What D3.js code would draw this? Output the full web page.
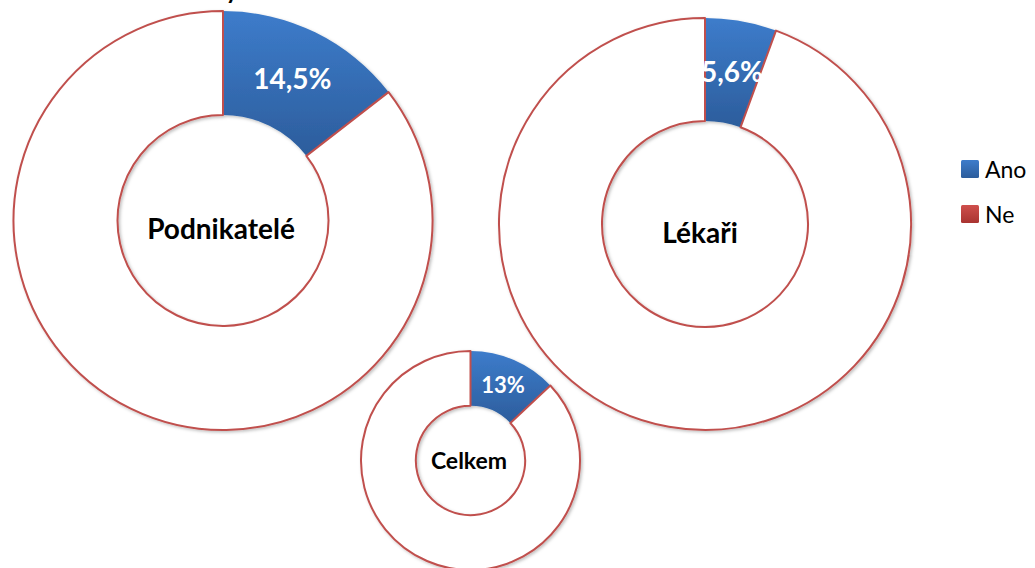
<!DOCTYPE html>
<html>
<head>
<meta charset="utf-8">
<script src="https://cdn.jsdelivr.net/npm/d3@7"></script>
<style>
  body { margin: 0; background: #fff; }
  svg { display: block; font-family: Lato, "Open Sans", sans-serif; }
</style>
</head>
<body>
<div id="chart"></div>
<script>
// data
var groups = ["Podnikatelé", "Lékaři", "Celkem"];
var categories = ["Ano", "Ne"];
var anoValues = [14.5, 5.6, 13];
var neValues = [85.5, 94.4, 87];
var valueLabels = ["14,5%", "5,6%", "13%"];

// layout of the three rings
var layout = [
    {cx: 223, cy: 220.5, outer: 209.5, inner: 105.5, valueSize: 28, nameSize: 28, nameDy: 18.5, nameDx: -2},
    {cx: 705, cy: 224, outer: 206, inner: 103, valueSize: 28, nameSize: 28, nameDy: 19, nameDx: -5},
    {cx: 470.5, cy: 460.5, outer: 109.5, inner: 54.7, valueSize: 22, nameSize: 23, nameDy: 8.5, nameDx: -1.5}
];

var width = 1035, height = 568;
var red = "#c0504d";

var svg = d3.select("#chart").append("svg")
    .attr("width", width)
    .attr("height", height);

var defs = svg.append("defs");
var blueGrad = defs.append("linearGradient")
    .attr("id", "blueGrad").attr("x1", 0).attr("y1", 0).attr("x2", 0).attr("y2", 1);
blueGrad.append("stop").attr("offset", "0%").attr("stop-color", "#3d7ccb");
blueGrad.append("stop").attr("offset", "100%").attr("stop-color", "#2c5d9c");
var redGrad = defs.append("linearGradient")
    .attr("id", "redGrad").attr("x1", 0).attr("y1", 0).attr("x2", 0).attr("y2", 1);
redGrad.append("stop").attr("offset", "0%").attr("stop-color", "#cf4f4c");
redGrad.append("stop").attr("offset", "100%").attr("stop-color", "#a93431");

var shadow = defs.append("filter").attr("id", "shadow")
    .attr("x", "-10%").attr("y", "-10%").attr("width", "120%").attr("height", "120%");
shadow.append("feDropShadow")
    .attr("dx", 1.5).attr("dy", 1.5).attr("stdDeviation", 1.5)
    .attr("flood-color", "#000").attr("flood-opacity", 0.25);

var color = d3.scaleOrdinal().domain(categories).range(["url(#blueGrad)", "#ffffff"]);
var legendColor = d3.scaleOrdinal().domain(categories).range(["url(#blueGrad)", "url(#redGrad)"]);

var pie = d3.pie().sort(null).value(function (d) { return d.value; });

// cut off title (only its descender shows at the top edge)
svg.append("text")
    .attr("x", 232)
    .attr("y", -1)
    .attr("text-anchor", "middle")
    .attr("font-size", 24)
    .attr("font-weight", "bold")
    .text("y");

groups.forEach(function (name, i) {
    var L = layout[i];
    var slices = [
        {key: "Ano", value: anoValues[i]},
        {key: "Ne", value: neValues[i]}
    ];
    var arc = d3.arc().innerRadius(L.inner).outerRadius(L.outer);
    var g = svg.append("g")
        .attr("transform", "translate(" + L.cx + "," + L.cy + ")");

    var ring = g.append("g").attr("filter", "url(#shadow)");
    ring.selectAll("path")
        .data(pie(slices))
        .enter().append("path")
        .attr("d", arc)
        .attr("fill", function (d) { return color(d.data.key); })
        .attr("stroke", function (d) { return d.data.key === "Ne" ? red : "none"; })
        .attr("stroke-width", 2)
        .attr("stroke-linejoin", "round");

    // percentage label on the Ano slice
    var ano = pie(slices)[0];
    var c = arc.centroid(ano);
    g.append("text")
        .attr("x", c[0])
        .attr("y", c[1] + L.valueSize * 0.36)
        .attr("text-anchor", "middle")
        .attr("fill", "#fff")
        .attr("font-weight", "bold")
        .attr("font-size", L.valueSize)
        .text(valueLabels[i]);

    // group name in the hole
    g.append("text")
        .attr("x", L.nameDx)
        .attr("y", L.nameDy)
        .attr("text-anchor", "middle")
        .attr("fill", "#000")
        .attr("font-weight", "bold")
        .attr("font-size", L.nameSize)
        .text(name);
});

// legend
var legend = svg.append("g")
    .attr("transform", "translate(961,160)")
    .selectAll("g")
    .data(categories)
    .enter().append("g")
    .attr("transform", function (d, i) { return "translate(0," + i * 45 + ")"; });
legend.append("rect")
    .attr("width", 18)
    .attr("height", 18)
    .attr("rx", 1.5)
    .attr("fill", legendColor);
legend.append("text")
    .attr("x", 24)
    .attr("y", 17.5)
    .attr("font-size", 23)
    .attr("fill", "#000")
    .text(function (d) { return d; });
</script>
</body>
</html>
